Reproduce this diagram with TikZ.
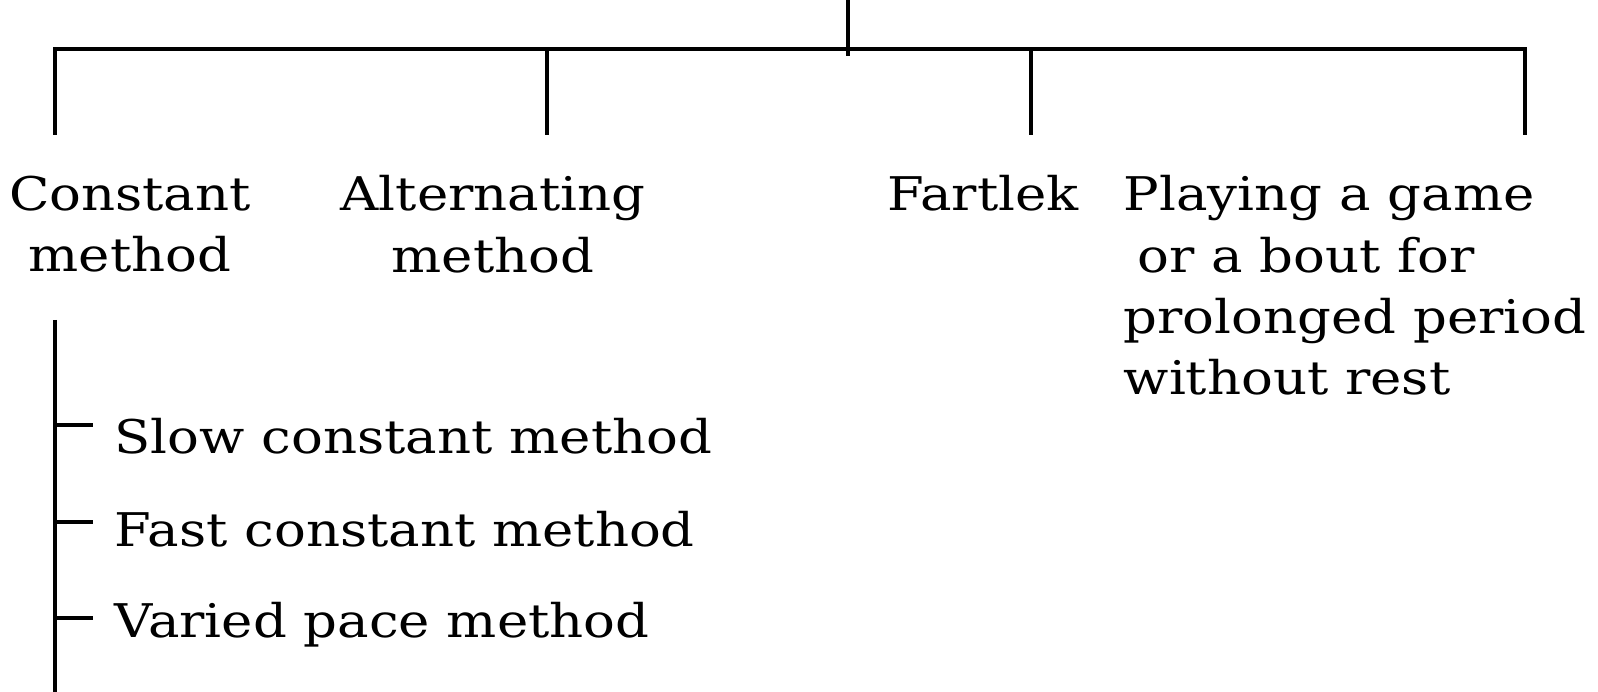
\documentclass[tikz,border=0pt]{standalone}
\usepackage{fontspec}
\setmainfont[FakeStretch=1.14]{DejaVu Serif}
\begin{document}
\begin{tikzpicture}[x=0.01cm,y=-0.01cm,
  wire/.style={line width=0.9pt,black},
  label/.style={inner sep=0pt,font=\fontsize{13.2}{17.4}\selectfont},
  toplabel/.style={label,anchor=north,align=center},
  sublabel/.style={label,anchor=base west}]
\useasboundingbox (0,0) rectangle (1598,692);

% top stub and the distribution bar
\coordinate (root) at (848,0);
\coordinate (rootj) at (848,56);
\coordinate (barL) at (55,49);
\coordinate (barR) at (1525,49);
\coordinate (j2) at (547,49);
\coordinate (j3) at (1031,49);
\coordinate (d1) at (55,135);
\coordinate (d2) at (547,135);
\coordinate (d3) at (1031,135);
\coordinate (d4) at (1525,135);

\draw[wire] (root) -- (rootj);
\draw[wire] (d1) -- (barL) -- (barR) -- (d4);
\draw[wire] (j2) -- (d2);
\draw[wire] (j3) -- (d3);

% the four methods
\node[toplabel] (const) at (130,175) {Constant\\method};
\node[toplabel] (alt) at (493,175) {Alternating\\method};
\node[toplabel] (fart) at (983,175) {Fartlek};
\node[label,anchor=north west,align=left] (play) at (1123,175)
  {Playing a game\\\hspace{0.3em}or a bout for\\prolonged period\\without rest};

% sub-branches of the constant method
\coordinate (vtop) at (55,320);
\coordinate (vbot) at (55,692);
\coordinate (t1) at (55,425);
\coordinate (t2) at (55,522);
\coordinate (t3) at (55,618);
\coordinate (e1) at (93,425);
\coordinate (e2) at (93,522);
\coordinate (e3) at (93,618);

\draw[wire] (vtop) -- (vbot);
\draw[wire] (t1) -- (e1);
\draw[wire] (t2) -- (e2);
\draw[wire] (t3) -- (e3);

\node[sublabel] (slow) at (114,454) {Slow constant method};
\node[sublabel] (fast) at (114,547) {Fast constant method};
\node[sublabel] (varied) at (114,638) {Varied pace method};
\end{tikzpicture}
\end{document}
